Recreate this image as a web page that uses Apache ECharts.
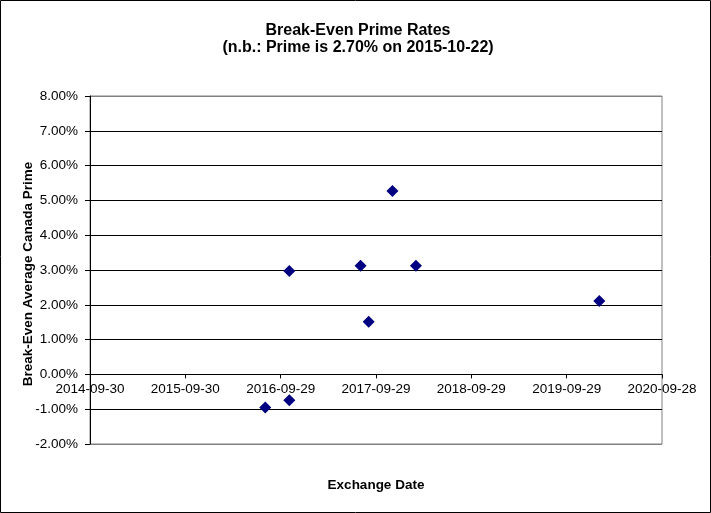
<!DOCTYPE html>
<html>
<head>
<meta charset="utf-8">
<script src="https://cdn.jsdelivr.net/npm/echarts@6/dist/echarts.min.js"></script>
<style>
html,body{margin:0;padding:0;background:#fff;}
#chart{width:711px;height:513px;}
</style>
</head>
<body>
<div id="chart"></div>
<script>
// Data
var exchangeDates = ['2016-08-01','2016-11-01','2016-11-01','2017-08-01','2017-09-01','2017-12-01','2018-03-01','2020-02-01'];
var breakEvenRates = [-0.95, -0.74, 2.97, 3.12, 1.51, 5.27, 3.12, 2.11];
var xTickStart = '2014-09-30';
var xTickStepDays = 365;
var xTickCount = 6;
var yTicks = [-2, -1, 0, 1, 2, 3, 4, 5, 6, 7, 8];

var DAY = 86400000;
function parseDay(s){var p=s.split('-');return Date.UTC(+p[0],+p[1]-1,+p[2]);}
var startMs = parseDay(xTickStart);
function toOffset(s){return Math.round((parseDay(s)-startMs)/DAY);}
function fmtDay(d){
  var dt = new Date(startMs + d*DAY);
  var m = dt.getUTCMonth()+1, dd = dt.getUTCDate();
  return dt.getUTCFullYear()+'-'+(m<10?'0':'')+m+'-'+(dd<10?'0':'')+dd;
}
var points = exchangeDates.map(function(d,i){return [toOffset(d), breakEvenRates[i]];});

var splitColors = yTicks.map(function(v,i){return (i===0||i===yTicks.length-1)?'#808080':'#000000';});
var FONT = '"Liberation Sans", Arial, sans-serif';

var GRID_TOP = 96, GRID_BOTTOM = 69, H = 513;
var gridH = H - GRID_TOP - GRID_BOTTOM;
var yMin = yTicks[0], yMax = yTicks[yTicks.length-1];
var zeroOffset = -gridH * (0 - yMin) / (yMax - yMin);

var chart = echarts.init(document.getElementById('chart'), null, {renderer:'canvas'});
chart.setOption({
  animation:false,
  backgroundColor:'#ffffff',
  title:{
    text:'Break-Even Prime Rates\n(n.b.: Prime is 2.70% on 2015-10-22)',
    left:353, top:17, textAlign:'center',
    textStyle:{fontFamily:FONT, fontSize:16, fontWeight:'bold', color:'#000', lineHeight:17}
  },
  grid:{left:90, right:49, top:GRID_TOP, bottom:GRID_BOTTOM, show:true, borderColor:'#808080', borderWidth:1, backgroundColor:'#fff', containLabel:false},
  xAxis:{
    type:'value', min:0, max:xTickStepDays*xTickCount, interval:xTickStepDays,
    position:'bottom', offset:zeroOffset,
    axisLine:{show:true, onZero:false, lineStyle:{color:'#000', width:1}},
    axisTick:{show:true, length:4, lineStyle:{color:'#000'}},
    splitLine:{show:false},
    axisLabel:{fontFamily:FONT, fontSize:13.5, color:'#000', margin:8, hideOverlap:false, formatter:function(v){return fmtDay(v);}}
  },
  yAxis:{
    type:'value', min:yMin, max:yMax, interval:1,
    axisLine:{show:true, lineStyle:{color:'#000', width:1}},
    axisTick:{show:true, length:5, lineStyle:{color:'#000'}},
    splitLine:{show:true, lineStyle:{color:splitColors, width:1}},
    axisLabel:{fontFamily:FONT, fontSize:13.5, color:'#000', margin:12, formatter:function(v){return v.toFixed(2)+'%';}}
  },
  series:[{
    type:'scatter', data:points, symbol:'diamond', symbolSize:12,
    itemStyle:{color:'#000080', opacity:1}
  }],
  graphic:[
    {type:'rect', shape:{x:0.5,y:0.5,width:710,height:512}, style:{fill:null, stroke:'#000', lineWidth:1}, silent:true, z:100},
    {type:'text', x:376, y:485, style:{text:'Exchange Date', font:'bold 13.5px '+FONT, fill:'#000', align:'center', verticalAlign:'middle'}},
    {type:'text', x:28, y:274, rotation:Math.PI/2, style:{text:'Break-Even Average Canada Prime', font:'bold 13.5px '+FONT, fill:'#000', align:'center', verticalAlign:'middle'}}
  ]
});
</script>
</body>
</html>
